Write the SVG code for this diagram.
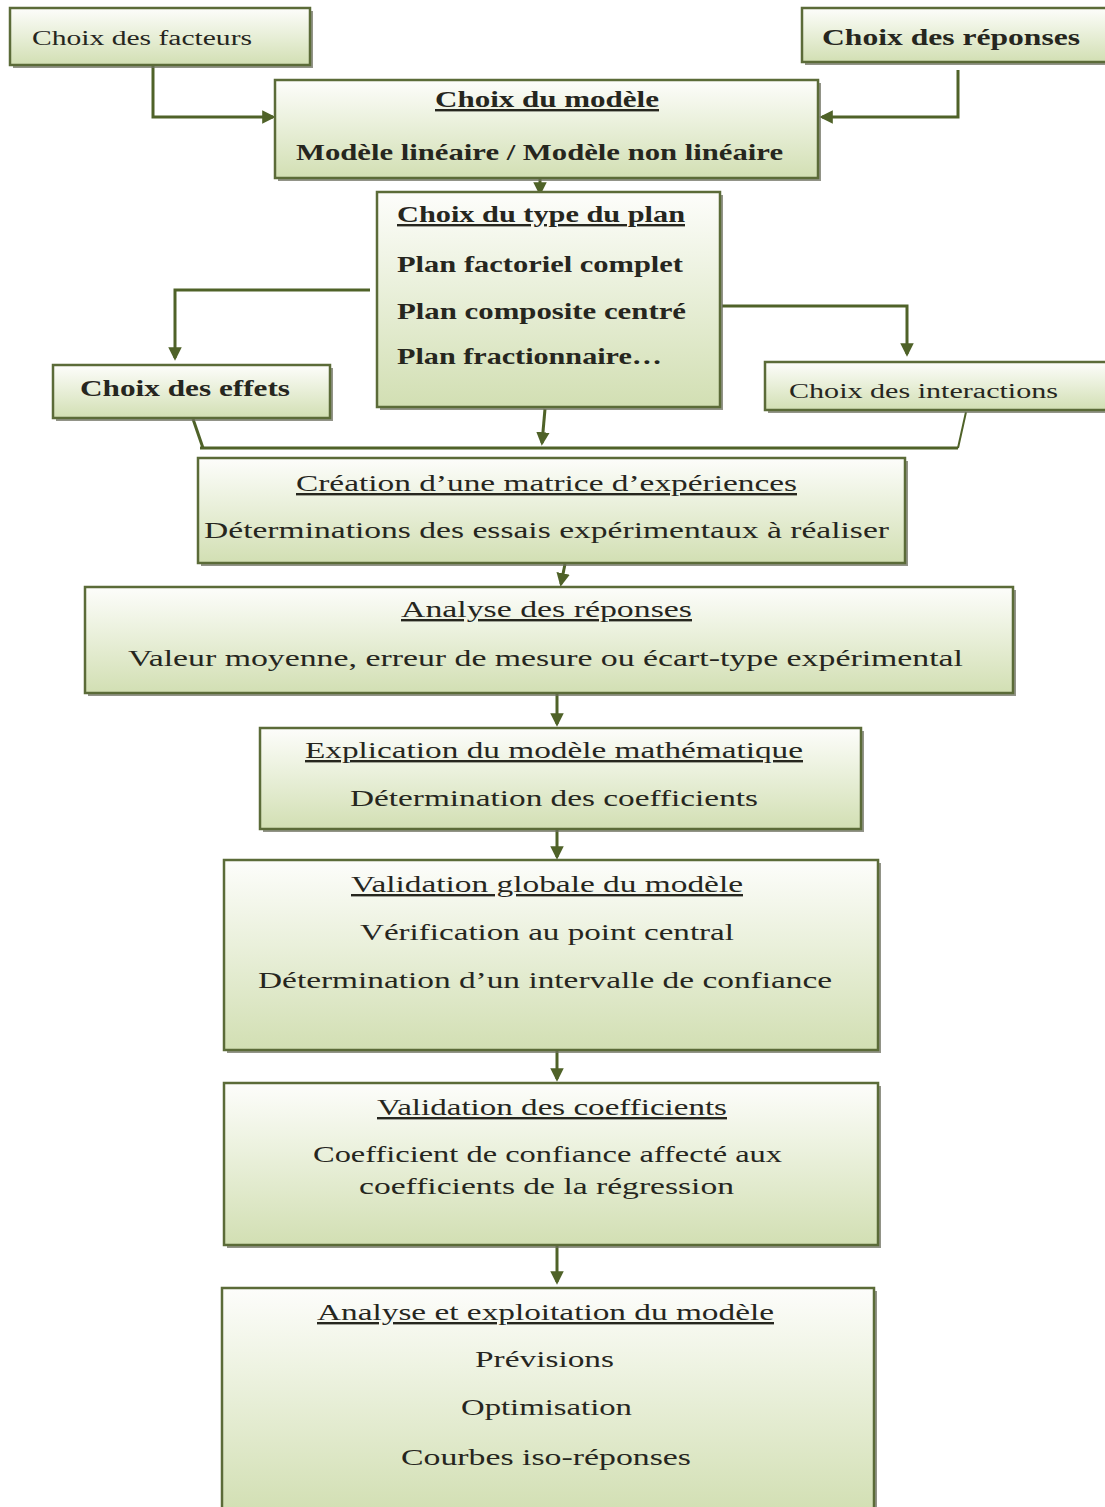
<svg xmlns="http://www.w3.org/2000/svg" width="1105" height="1507" viewBox="0 0 1105 1507">
<defs>
<linearGradient id="g" x1="0" y1="0" x2="0" y2="1">
<stop offset="0" stop-color="#fdfdfb"/>
<stop offset="0.35" stop-color="#eef3e2"/>
<stop offset="1" stop-color="#d2dfb3"/>
</linearGradient>
<marker id="ah" viewBox="0 0 10 10" refX="8" refY="5" markerWidth="4.5" markerHeight="4.5" orient="auto" markerUnits="strokeWidth">
<path d="M0,0 L10,5 L0,10 z" fill="#4f6228"/>
</marker>
<style>
.sh{fill:#6e7060;opacity:0.75}
.bx{fill:url(#g);stroke:#5b6b38;stroke-width:2.5}
.t{font-family:"Liberation Serif","DejaVu Serif",serif;font-size:24px;font-weight:bold;fill:#26261e}
.n{font-weight:normal}
.s{font-size:20px}
.u{text-decoration:underline}
.c{fill:none;stroke:#4f6228;stroke-width:3}
.a{marker-end:url(#ah)}
</style>
</defs>
<rect width="1105" height="1507" fill="#ffffff"/>

<g id="connectors">
<path class="c a" d="M153,66 V117 H273"/>
<path class="c a" d="M958,70 V117 H822"/>
<path class="c a" d="M540,178 V193"/>
<path class="c a" d="M370,290 H175 V358"/>
<path class="c a" d="M722,306 H907 V354"/>
<path class="c a" d="M545,409 L542,443"/>
<path class="c" d="M200,448 H958"/>
<path class="c" d="M193,419 L203,448"/>
<path class="c" d="M966,412 L958,448" style="stroke-width:2"/>
<path class="c a" d="M565,564 L561,584"/>
<path class="c a" d="M557,694 V724"/>
<path class="c a" d="M557,830 V857"/>
<path class="c a" d="M557,1051 V1079"/>
<path class="c a" d="M557,1246 V1282"/>
</g>

<g id="n-facteurs">
<rect class="sh" x="13" y="11" width="300" height="57"/>
<rect class="bx" x="10" y="8" width="300" height="57"/>
<text class="t s n" x="32" y="45" textLength="220" lengthAdjust="spacingAndGlyphs">Choix  des  facteurs</text>
</g>

<g id="n-reponses">
<rect class="sh" x="805" y="11" width="303" height="54"/>
<rect class="bx" x="802" y="8" width="306" height="54"/>
<text class="t" x="822" y="45" textLength="258" lengthAdjust="spacingAndGlyphs">Choix des réponses</text>
</g>

<g id="n-modele">
<rect class="sh" x="278" y="83" width="543" height="98"/>
<rect class="bx" x="275" y="80" width="543" height="98"/>
<text class="t u" x="435" y="107" textLength="224" lengthAdjust="spacingAndGlyphs">Choix du modèle</text>
<text class="t" x="296" y="160" textLength="487" lengthAdjust="spacingAndGlyphs">Modèle linéaire / Modèle non linéaire</text>
</g>

<g id="n-plan">
<rect class="sh" x="380" y="195" width="343" height="215"/>
<rect class="bx" x="377" y="192" width="343" height="215"/>
<text class="t u" x="397" y="222" textLength="288" lengthAdjust="spacingAndGlyphs">Choix du type du plan</text>
<text class="t" x="397" y="272" textLength="286" lengthAdjust="spacingAndGlyphs">Plan factoriel complet</text>
<text class="t" x="397" y="319" textLength="289" lengthAdjust="spacingAndGlyphs">Plan composite centré</text>
<text class="t" x="397" y="364" textLength="265" lengthAdjust="spacingAndGlyphs">Plan fractionnaire…</text>
</g>

<g id="n-effets">
<rect class="sh" x="56" y="368" width="277" height="53"/>
<rect class="bx" x="53" y="365" width="277" height="53"/>
<text class="t" x="80" y="396" textLength="210" lengthAdjust="spacingAndGlyphs">Choix des effets</text>
</g>

<g id="n-interactions">
<rect class="sh" x="768" y="365" width="340" height="48"/>
<rect class="bx" x="765" y="362" width="343" height="48"/>
<text class="t s n" x="789" y="398" textLength="269" lengthAdjust="spacingAndGlyphs">Choix   des   interactions</text>
</g>

<g id="n-matrice">
<rect class="sh" x="201" y="461" width="707" height="105"/>
<rect class="bx" x="198" y="458" width="707" height="105"/>
<text class="t u n" x="296" y="491" textLength="501" lengthAdjust="spacingAndGlyphs">Création d’une matrice d’expériences</text>
<text class="t n" x="204" y="538" textLength="685" lengthAdjust="spacingAndGlyphs">Déterminations des essais expérimentaux à réaliser</text>
</g>

<g id="n-analyse">
<rect class="sh" x="88" y="590" width="928" height="106"/>
<rect class="bx" x="85" y="587" width="928" height="106"/>
<text class="t u n" x="401" y="617" textLength="291" lengthAdjust="spacingAndGlyphs">Analyse des réponses</text>
<text class="t n" x="128" y="666" textLength="835" lengthAdjust="spacingAndGlyphs">Valeur moyenne, erreur de mesure ou écart-type expérimental</text>
</g>

<g id="n-explication">
<rect class="sh" x="263" y="731" width="601" height="101"/>
<rect class="bx" x="260" y="728" width="601" height="101"/>
<text class="t u n" x="305" y="758" textLength="498" lengthAdjust="spacingAndGlyphs">Explication du modèle mathématique</text>
<text class="t n" x="350" y="806" textLength="408" lengthAdjust="spacingAndGlyphs">Détermination des coefficients</text>
</g>

<g id="n-validation-globale">
<rect class="sh" x="227" y="863" width="654" height="190"/>
<rect class="bx" x="224" y="860" width="654" height="190"/>
<text class="t u n" x="351" y="892" textLength="392" lengthAdjust="spacingAndGlyphs">Validation globale du modèle</text>
<text class="t n" x="360" y="940" textLength="374" lengthAdjust="spacingAndGlyphs">Vérification au point central</text>
<text class="t n" x="258" y="988" textLength="574" lengthAdjust="spacingAndGlyphs">Détermination d’un intervalle de confiance</text>
</g>

<g id="n-validation-coefficients">
<rect class="sh" x="227" y="1086" width="654" height="162"/>
<rect class="bx" x="224" y="1083" width="654" height="162"/>
<text class="t u n" x="377" y="1115" textLength="350" lengthAdjust="spacingAndGlyphs">Validation des coefficients</text>
<text class="t n" x="313" y="1162" textLength="469" lengthAdjust="spacingAndGlyphs">Coefficient de confiance affecté aux</text>
<text class="t n" x="359" y="1194" textLength="375" lengthAdjust="spacingAndGlyphs">coefficients de la régression</text>
</g>

<g id="n-exploitation">
<rect class="sh" x="225" y="1291" width="652" height="225"/>
<rect class="bx" x="222" y="1288" width="652" height="225"/>
<text class="t u n" x="317" y="1320" textLength="457" lengthAdjust="spacingAndGlyphs">Analyse et exploitation du modèle</text>
<text class="t n" x="475" y="1367" textLength="139" lengthAdjust="spacingAndGlyphs">Prévisions</text>
<text class="t n" x="461" y="1415" textLength="171" lengthAdjust="spacingAndGlyphs">Optimisation</text>
<text class="t n" x="401" y="1465" textLength="290" lengthAdjust="spacingAndGlyphs">Courbes iso-réponses</text>
</g>
</svg>
